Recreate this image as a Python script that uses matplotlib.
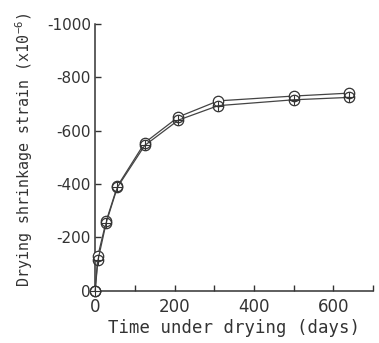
"""
Drying shrinkage strain vs. time under drying (two nearly identical specimens).
"""

import matplotlib
matplotlib.use("Agg")
import matplotlib.pyplot as plt
from matplotlib.ticker import MultipleLocator

# data
days = [0, 7, 28, 56, 125, 210, 310, 500, 640]
strain_a = [0, -132, -262, -392, -555, -652, -712, -730, -741]
strain_b = [0, -114, -256, -388, -545, -640, -694, -716, -725]

xticks = [0, 200, 400, 600]
xticklabels = ["0", "200", "400", "600"]
yticks = [0, -200, -400, -600, -800, -1000]
yticklabels = ["0", "-200", "-400", "-600", "-800", "-1000"]

plt.rcParams["axes.unicode_minus"] = False

fig = plt.figure(figsize=(3.79, 3.43), dpi=100)
ax = fig.add_axes([0.251, 0.152, 0.733, 0.778])

ax.plot(days, strain_a, color="#444444", lw=0.9, marker="o", ms=7.5,
        mfc="white", mec="#333333", mew=0.9, zorder=3, clip_on=False)
ax.plot(days, strain_b, color="#444444", lw=0.9, marker="o", ms=7.5,
        mfc="none", mec="#333333", mew=0.9, zorder=4, clip_on=False)
ax.plot(days, strain_b, ls="none", marker="+", ms=7.5, mec="#333333",
        mew=0.8, zorder=5, clip_on=False)

ax.set_xlim(0, 700)
ax.set_ylim(0, -1000)
ax.set_xticks(xticks)
ax.set_xticklabels(xticklabels, fontsize=12, color="#333333")
ax.xaxis.set_minor_locator(MultipleLocator(100))
ax.set_yticks(yticks)
ax.set_yticklabels(yticklabels, fontsize=11, color="#333333")

ax.tick_params(which="both", direction="in", length=4, width=1,
               color="#333333")
ax.tick_params(axis="y", pad=3)
ax.tick_params(axis="x", pad=5)
for s in ["top", "right"]:
    ax.spines[s].set_visible(False)
for s in ["left", "bottom"]:
    ax.spines[s].set_linewidth(1.1)
    ax.spines[s].set_color("#333333")

ax.set_xlabel("Time under drying (days)", family="DejaVu Sans Mono",
              fontsize=12.5, color="#333333", labelpad=2)
ax.set_ylabel(r"Drying shrinkage strain $\mathregular{(x10^{-6})}$",
              family="DejaVu Sans Mono", fontsize=10.8, color="#333333")
ax.yaxis.set_label_coords(-0.215, 0.528)

fig.savefig("out.png", dpi=100)
